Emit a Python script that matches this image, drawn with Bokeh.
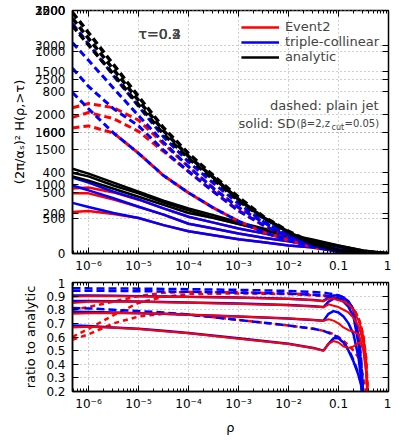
from bokeh.plotting import figure
from bokeh.models import (Range1d, FixedTicker, LinearAxis, LogAxis, Label,
                          Legend, LegendItem)
from bokeh.layouts import column
from bokeh.embed import file_html
from bokeh.resources import INLINE

# ---------------- data ----------------
log_rho = [-6.32, -6.0, -5.5, -5.0, -4.5, -4.0, -3.5, -3.0, -2.5, -2.0, -1.5, -1.0, -0.5, 0.0]

# tau = 0.2  (axis 0..3500)
t02_analytic_plain = [3470, 3180, 2720, 2260, 1810, 1440, 1120, 810, 530, 320, 145, 45, 5, 0]
t02_tc_plain = [3310, 3020, 2560, 2120, 1680, 1320, 1010, 720, 460, 260, 115, 30, 3, 0]
t02_e2_plain = [2100, 2160, 2100, 1920, 1580, 1250, 940, 660, 450, 260, 115, 30, 3, 0]
t02_analytic_sd = [1220, 1150, 1020, 890, 760, 650, 550, 450, 360, 275, 200, 115, 40, 0]
t02_tc_sd = [1095, 1020, 890, 780, 650, 530, 445, 360, 290, 215, 160, 85, 30, 0]
t02_e2_sd = [935, 950, 880, 775, 650, 530, 445, 360, 290, 215, 160, 85, 30, 0]

# tau = 0.3  (axis 0..2000)
t03_analytic_plain = [1935, 1770, 1515, 1260, 1010, 800, 625, 445, 295, 175, 75, 25, 3, 0]
t03_tc_plain = [1735, 1590, 1360, 1135, 915, 715, 535, 380, 255, 150, 65, 15, 2, 0]
t03_e2_plain = [1120, 1160, 1110, 1005, 840, 675, 510, 355, 230, 130, 58, 16, 2, 0]
t03_analytic_sd = [665, 635, 560, 495, 420, 355, 295, 245, 200, 150, 105, 65, 25, 0]
t03_tc_sd = [560, 520, 455, 385, 320, 245, 205, 165, 130, 100, 65, 40, 15, 0]
t03_e2_sd = [495, 495, 445, 385, 320, 245, 205, 165, 130, 100, 65, 40, 15, 0]

# tau = 0.4  (axis 0..1200)
t04_analytic_plain = [1125, 1030, 885, 735, 590, 470, 365, 260, 175, 105, 45, 15, 2, 0]
t04_tc_plain = [915, 825, 715, 630, 510, 405, 305, 210, 140, 80, 35, 10, 1, 0]
t04_tc_plain_b = [795, 715, 595, 495, 385, 300, 225, 160, 105, 65, 30, 10, 1, 0]
t04_e2_plain = [620, 630, 595, 495, 385, 300, 225, 160, 105, 65, 30, 10, 1, 0]
t04_analytic_sd = [380, 360, 320, 280, 240, 200, 175, 145, 115, 85, 60, 35, 10, 0]
t04_tc_sd = [250, 230, 200, 175, 140, 110, 90, 70, 55, 40, 30, 15, 5, 0]
t04_e2_sd = [205, 210, 195, 175, 140, 110, 90, 70, 55, 40, 30, 15, 5, 0]

tau_labels = ["τ=0.2", "τ=0.3", "τ=0.4"]
tau_axis_max = [3500, 2000, 1200]
tau_axis_ticks = [[0, 500, 1000, 1500, 2000, 2500, 3000, 3500],
                  [500, 1000, 1500, 2000],
                  [200, 400, 600, 800, 1000, 1200]]

# ratio panel
ratio_log_rho = [-6.32, -6.0, -5.5, -5.0, -4.5, -4.0, -3.0, -2.0, -1.5, -1.3, -1.2,
                 -1.1, -1.0, -0.9, -0.8, -0.7, -0.6, -0.55, -0.5, -0.45, -0.4]
ratio_tc_plain = [
    [0.958, 0.957, 0.956, 0.955, 0.953, 0.951, 0.946, 0.938, 0.93, 0.925, 0.92, 0.915, 0.905, 0.89, 0.86, 0.8, 0.62, 0.45, 0.15, 0.0, 0.0],
    [0.94, 0.94, 0.938, 0.936, 0.934, 0.932, 0.926, 0.918, 0.91, 0.905, 0.9, 0.895, 0.885, 0.87, 0.84, 0.78, 0.6, 0.42, 0.15, 0.0, 0.0],
    [0.812, 0.81, 0.8, 0.79, 0.78, 0.765, 0.725, 0.685, 0.66, 0.645, 0.63, 0.615, 0.595, 0.56, 0.51, 0.43, 0.33, 0.26, 0.12, 0.0, 0.0],
]
ratio_tc_sd = [
    [0.905, 0.904, 0.902, 0.9, 0.898, 0.895, 0.89, 0.88, 0.872, 0.865, 0.89, 0.905, 0.905, 0.89, 0.86, 0.8, 0.6, 0.4, 0.15, 0.0, 0.0],
    [0.865, 0.864, 0.862, 0.86, 0.857, 0.854, 0.845, 0.835, 0.825, 0.82, 0.86, 0.88, 0.88, 0.86, 0.82, 0.75, 0.55, 0.35, 0.12, 0.0, 0.0],
    [0.785, 0.783, 0.779, 0.775, 0.77, 0.764, 0.75, 0.735, 0.725, 0.72, 0.77, 0.79, 0.78, 0.75, 0.7, 0.62, 0.45, 0.3, 0.1, 0.0, 0.0],
    [0.685, 0.68, 0.67, 0.66, 0.645, 0.63, 0.59, 0.55, 0.52, 0.5, 0.55, 0.59, 0.59, 0.56, 0.5, 0.42, 0.32, 0.25, 0.1, 0.0, 0.0],
]
ratio_e2_plain = [
    [0.60, 0.66, 0.76, 0.85, 0.895, 0.915, 0.92, 0.915, 0.905, 0.9, 0.895, 0.885, 0.875, 0.865, 0.845, 0.81, 0.74, 0.68, 0.6, 0.45, 0.1],
    [0.80, 0.82, 0.86, 0.9, 0.925, 0.93, 0.928, 0.92, 0.91, 0.905, 0.9, 0.89, 0.88, 0.865, 0.845, 0.81, 0.74, 0.68, 0.6, 0.45, 0.1],
    [0.58, 0.62, 0.70, 0.75, 0.77, 0.765, 0.725, 0.685, 0.66, 0.645, 0.635, 0.62, 0.6, 0.57, 0.54, 0.5, 0.45, 0.38, 0.3, 0.2, 0.05],
]
ratio_e2_sd = [
    [0.895, 0.9, 0.9, 0.898, 0.896, 0.893, 0.888, 0.878, 0.87, 0.863, 0.88, 0.88, 0.87, 0.86, 0.84, 0.8, 0.72, 0.67, 0.6, 0.45, 0.1],
    [0.85, 0.858, 0.86, 0.858, 0.855, 0.852, 0.843, 0.833, 0.823, 0.818, 0.84, 0.83, 0.82, 0.8, 0.78, 0.74, 0.68, 0.62, 0.55, 0.4, 0.1],
    [0.77, 0.775, 0.777, 0.774, 0.77, 0.764, 0.75, 0.735, 0.724, 0.718, 0.73, 0.72, 0.7, 0.67, 0.65, 0.64, 0.62, 0.57, 0.5, 0.35, 0.05],
    [0.67, 0.675, 0.668, 0.658, 0.643, 0.628, 0.588, 0.548, 0.518, 0.498, 0.55, 0.57, 0.56, 0.53, 0.52, 0.53, 0.56, 0.55, 0.5, 0.35, 0.05],
]

x_ticks = [1e-6, 1e-5, 1e-4, 1e-3, 1e-2, 0.1, 1.0]
x_tick_labels = ["10⁻⁶", "10⁻⁵", "10⁻⁴", "10⁻³", "10⁻²", "0.1", "1"]
ratio_ticks = [0.2, 0.3, 0.4, 0.5, 0.6, 0.7, 0.8, 0.9, 1.0]
ratio_tick_labels = ["0.2", "0.3", "0.4", "0.5", "0.6", "0.7", "0.8", "0.9", "1"]

# ---------------- styling ----------------
FONT = "DejaVu Sans"
RED, BLUE, BLACK = "#ff0000", "#0000ff", "#000000"
GRID = "#a0a0a0"

rho = [10 ** v for v in log_rho]
ratio_rho = [10 ** v for v in ratio_log_rho]
x_lo = 10 ** -6.32
minor_x = [k * 10 ** d for d in range(-7, 0) for k in range(2, 10)]
x_ticker = FixedTicker(ticks=x_ticks, minor_ticks=minor_x)
x_over = {t: l for t, l in zip(x_ticks, x_tick_labels)}

# top y ticks: all three overlaid axes mapped onto the primary (0..3500) scale
y_pos, y_over = [], {}
main_max = tau_axis_max[0]
for i, (mx, tks) in enumerate(zip(tau_axis_max, tau_axis_ticks)):
    for v in tks:
        if i > 0 and v == 0:
            continue
        pos = v * main_max / mx - 0.001 * i
        y_pos.append(pos)
        y_over[pos] = str(v)
y_ticker = FixedTicker(ticks=y_pos)


def common_style(p):
    p.outline_line_color = BLACK
    p.outline_line_width = 1.5
    p.background_fill_color = "white"
    p.border_fill_color = "white"
    for g in p.xgrid + p.ygrid:
        g.grid_line_color = GRID
        g.grid_line_dash = "1 3"
        g.grid_line_width = 1
    for ax in p.xaxis + p.yaxis:
        ax.axis_line_width = 1.5
        ax.major_tick_in = 6
        ax.major_tick_out = 0
        ax.minor_tick_in = 3
        ax.minor_tick_out = 0
        ax.major_tick_line_width = 1
        ax.major_label_text_font = FONT
        ax.major_label_text_font_size = "12px"
        ax.major_label_text_color = BLACK
        ax.axis_label_text_font = FONT
        ax.axis_label_text_font_size = "13px"
        ax.axis_label_text_font_style = "normal"
        ax.axis_label_text_color = BLACK


def mirror_axes(p, yt, xt):
    ra = LinearAxis(ticker=yt, major_label_text_font_size="1px", major_label_text_alpha=0,
                    major_label_standoff=0, major_tick_in=6, major_tick_out=0,
                    minor_tick_in=0, minor_tick_out=0, axis_line_color=None)
    p.add_layout(ra, "right")
    ta = LogAxis(ticker=xt, major_label_text_font_size="1px", major_label_text_alpha=0,
                 major_label_standoff=0, major_tick_in=6, major_tick_out=0,
                 minor_tick_in=3, minor_tick_out=0, axis_line_color=None)
    p.add_layout(ta, "above")


# ---------------- top panel ----------------
xr = Range1d(x_lo, 1.0)
p = figure(width=391, height=278, x_axis_type="log", x_range=xr,
           y_range=Range1d(0, tau_axis_max[0]), output_backend="svg",
           toolbar_location=None, min_border_left=72, min_border_right=3,
           min_border_top=10, min_border_bottom=25)
p.extra_y_ranges = {"t03": Range1d(0, tau_axis_max[1]), "t04": Range1d(0, tau_axis_max[2])}

p.xaxis.ticker = x_ticker
p.xaxis.major_label_overrides = x_over
p.xgrid.ticker = x_ticker
p.yaxis.ticker = y_ticker
p.yaxis.major_label_overrides = y_over
p.ygrid.ticker = y_ticker
p.yaxis.axis_label = "(2π/αₛ)² H(ρ,>τ)"
p.yaxis.major_label_standoff = 7
p.xaxis.major_label_standoff = 5
common_style(p)
mirror_axes(p, y_ticker, x_ticker)

DASH = "7 4"
groups = [
    ("default", [t02_e2_plain], [t02_tc_plain], [t02_analytic_plain], t02_e2_sd, t02_tc_sd, t02_analytic_sd),
    ("t03", [t03_e2_plain], [t03_tc_plain], [t03_analytic_plain], t03_e2_sd, t03_tc_sd, t03_analytic_sd),
    ("t04", [t04_e2_plain], [t04_tc_plain, t04_tc_plain_b], [t04_analytic_plain], t04_e2_sd, t04_tc_sd, t04_analytic_sd),
]
leg_r = {}
for name, _, _, _, e2s, tcs, ans in groups:
    r1 = p.line(rho, e2s, color=RED, line_width=2.5, y_range_name=name)
    r2 = p.line(rho, tcs, color=BLUE, line_width=2.5, y_range_name=name)
    r3 = p.line(rho, ans, color=BLACK, line_width=2.5, y_range_name=name)
    leg_r.setdefault("e2", r1)
    leg_r.setdefault("tc", r2)
    leg_r.setdefault("an", r3)
for name, e2p, tcp, anp, *_ in groups:
    for s in e2p:
        p.line(rho, s, color=RED, line_width=3, line_dash=DASH, y_range_name=name)
for name, e2p, tcp, anp, *_ in groups:
    for s in tcp:
        p.line(rho, s, color=BLUE, line_width=3, line_dash=DASH, y_range_name=name)
for name, e2p, tcp, anp, *_ in groups:
    for s in anp:
        p.line(rho, s, color=BLACK, line_width=3.5, line_dash=DASH, y_range_name=name)

legend = Legend(items=[LegendItem(label="Event2", renderers=[leg_r["e2"]]),
                       LegendItem(label="triple-collinear", renderers=[leg_r["tc"]]),
                       LegendItem(label="analytic", renderers=[leg_r["an"]])],
                location="top_right", border_line_color=None, background_fill_alpha=0,
                label_text_font=FONT, label_text_font_size="13px", glyph_width=38,
                glyph_height=14, label_height=14, spacing=0, padding=4, margin=9,
                label_standoff=6)
p.add_layout(legend, "center")

for t in tau_labels:
    p.add_layout(Label(x=66, y=220, x_units="screen", y_units="screen", text=t,
                       text_font=FONT, text_font_size="14px", text_baseline="middle",
                       text_align="left"))
p.add_layout(Label(x=306, y=148, x_units="screen", y_units="screen", text="dashed: plain jet",
                   text_font=FONT, text_font_size="13px", text_baseline="middle",
                   text_align="right"))
p.add_layout(Label(x=223, y=130, x_units="screen", y_units="screen", text="solid: SD",
                   text_font=FONT, text_font_size="13px", text_baseline="middle",
                   text_align="right"))
p.add_layout(Label(x=224, y=130, x_units="screen", y_units="screen", text="(β=2,z",
                   text_font=FONT, text_font_size="10px", text_baseline="middle",
                   text_align="left"))
p.add_layout(Label(x=259, y=126, x_units="screen", y_units="screen", text="cut",
                   text_font=FONT, text_font_size="8px", text_baseline="middle",
                   text_align="left"))
p.add_layout(Label(x=272, y=130, x_units="screen", y_units="screen", text="=0.05)",
                   text_font=FONT, text_font_size="10px", text_baseline="middle",
                   text_align="left"))

# ---------------- ratio panel ----------------
q = figure(width=391, height=159, x_axis_type="log", x_range=xr,
           y_range=Range1d(0.2, 1.0), output_backend="svg", toolbar_location=None,
           min_border_left=72, min_border_right=3, min_border_top=4, min_border_bottom=42)
r_ticker = FixedTicker(ticks=ratio_ticks)
q.xaxis.ticker = x_ticker
q.xaxis.major_label_overrides = x_over
q.xgrid.ticker = x_ticker
q.yaxis.ticker = r_ticker
q.yaxis.major_label_overrides = {t: l for t, l in zip(ratio_ticks, ratio_tick_labels)}
q.ygrid.ticker = r_ticker
q.yaxis.axis_label = "ratio to analytic"
q.xaxis.axis_label = "ρ"
q.yaxis.major_label_standoff = 7
q.xaxis.major_label_standoff = 5
q.xaxis.axis_label_standoff = 6
common_style(q)
mirror_axes(q, r_ticker, x_ticker)

for s in ratio_e2_plain:
    q.line(ratio_rho, s, color=RED, line_width=2.5, line_dash="5 4")
for s in ratio_tc_plain:
    q.line(ratio_rho, s, color=BLUE, line_width=2.5, line_dash="8 4")
for s in ratio_tc_sd:
    q.line(ratio_rho, s, color=BLUE, line_width=2.5)
for s in ratio_e2_sd:
    q.line(ratio_rho, s, color=RED, line_width=2)

layout = column(p, q, spacing=0)
open("out.html", "w").write(file_html(layout, INLINE))
